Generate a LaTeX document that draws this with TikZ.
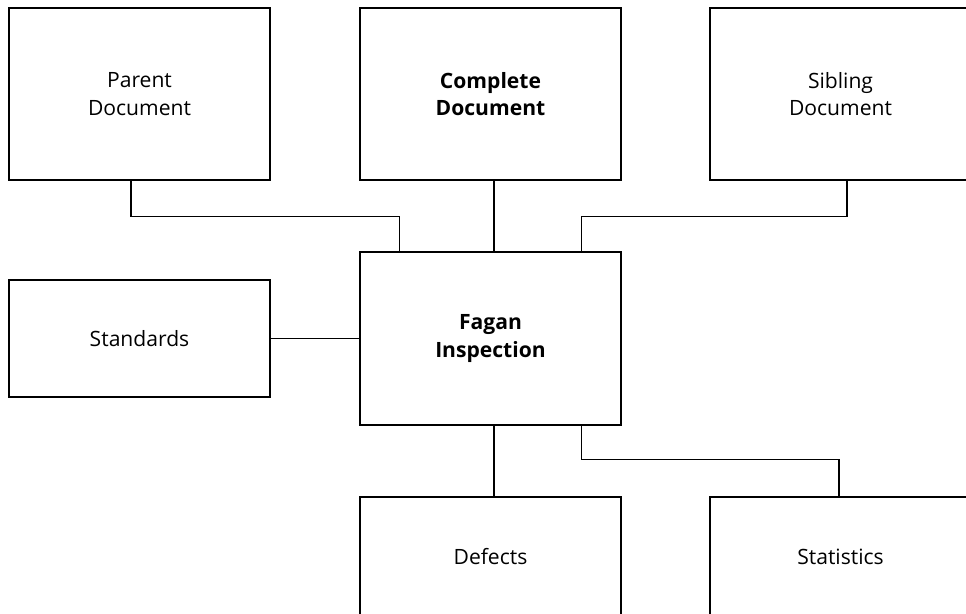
\documentclass[tikz,border=0pt]{standalone}
\usepackage{fontspec}
\setmainfont{Open Sans}
\usepackage{tikz}

\begin{document}
\begin{tikzpicture}[x=0.025cm,y=-0.025cm,
    tallbox/.style={draw=black,line width=1,fill=white,inner sep=0pt,
      minimum width=6.525cm,minimum height=4.3cm,align=center,
      font=\fontsize{15}{19.5}\selectfont},
    flatbox/.style={tallbox,minimum height=3cm},
    strong/.style={font=\fontsize{15}{19.5}\selectfont\bfseries},
    link/.style={draw=black,line width=1}]

    \useasboundingbox (0,0) rectangle (966,613);
    \clip (0,0) rectangle (966,613);

    \node[tallbox] (parent) at (139.5,94) {Parent\\Document};
    \node[tallbox,strong] (complete) at (490.5,94) {Complete\\Document};
    \node[tallbox] (sibling) at (840.5,94) {Sibling\\Document};

    \node[flatbox,minimum height=2.925cm] (standards) at (139.5,338.5) {Standards};
    \node[tallbox,strong,minimum height=4.325cm] (fagan) at (490.5,338.5) {Fagan\\Inspection};

    \node[flatbox] (defects) at (490.5,557) {Defects};
    \node[flatbox] (statistics) at (840.5,557) {Statistics};

    \draw[link] ([xshift=-0.21cm]parent.south) -- ++(0,-0.9cm)
      -| ([xshift=1cm]fagan.north west);
    \draw[link] ([xshift=0.09cm]complete.south) -- ([xshift=0.09cm]fagan.north);
    \draw[link] ([xshift=0.16cm]sibling.south) -- ++(0,-0.9cm)
      -| ([xshift=-1cm]fagan.north east);

    \draw[link] (standards.east) -- (fagan.west);

    \draw[link] ([xshift=0.09cm]fagan.south) -- ([xshift=0.09cm]defects.north);
    \draw[link] ([xshift=-1cm]fagan.south east) -- ++(0,-0.85cm)
      -| ([xshift=-0.04cm]statistics.north);

\end{tikzpicture}
\end{document}
